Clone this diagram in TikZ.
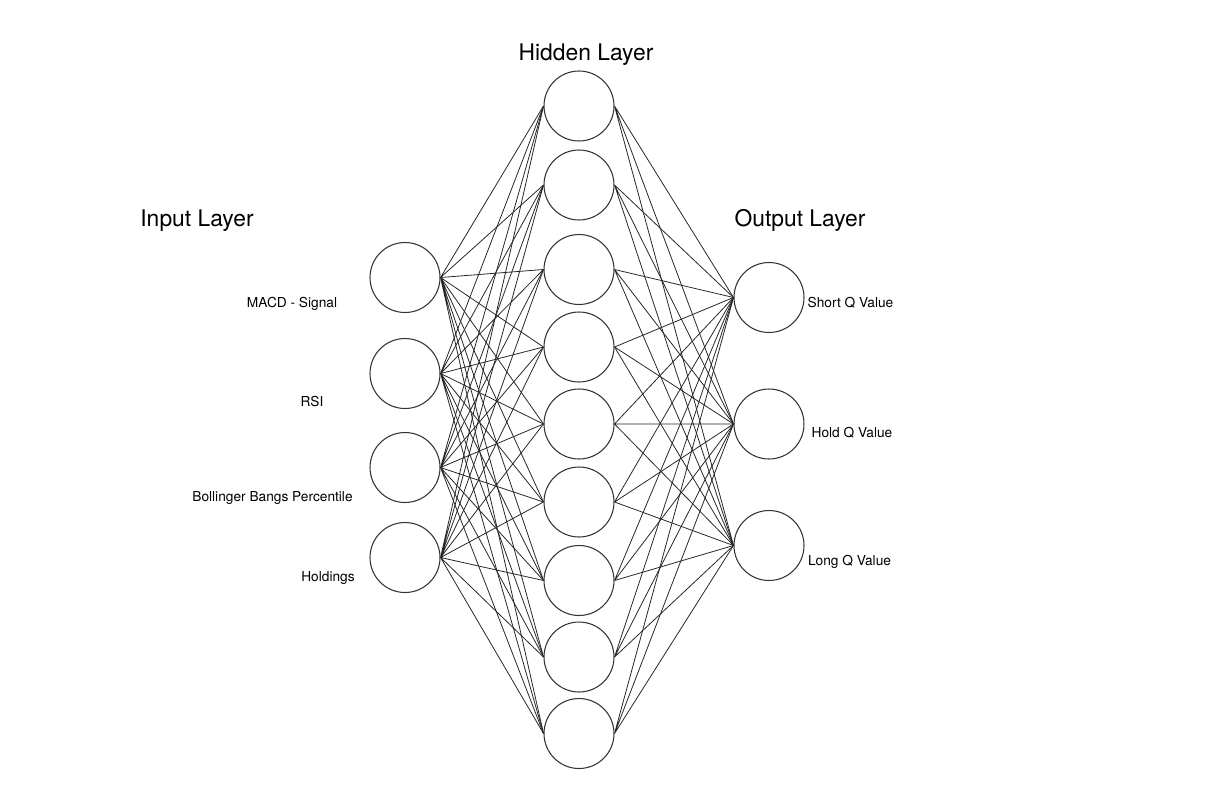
\documentclass[tikz,border=0pt]{standalone}
\usepackage{fontspec}
\setmainfont{TeX Gyre Heros}
\usepackage{tikz}

\begin{document}
\begin{tikzpicture}[x=0.02cm, y=-0.02cm]
    \tikzstyle{neuron} = [
        circle, draw=black!80, line width=0.6pt,
        minimum size=1.4cm, inner sep=0pt
    ]

    \tikzstyle{layer_title} = [anchor=base, font=\fontsize{13}{15}\selectfont]

    \tikzstyle{feature} = [anchor=base, font=\fontsize{7.8}{9}\selectfont]

    \tikzstyle{edge} = [black!85, line width=0.45pt]

    \useasboundingbox (0,0) rectangle (1212,794);

    % Titles
    \node[layer_title] (input_title) at (197,226) {Input Layer};
    \node[layer_title] (hidden_title) at (586,61) {Hidden Layer};
    \node[layer_title] (output_title) at (800,226) {Output Layer};

    % Input layer
    \node[neuron] (i1) at (405,277.5) {};
    \node[neuron] (i2) at (405,373.5) {};
    \node[neuron] (i3) at (405,467.5) {};
    \node[neuron] (i4) at (405,557.5) {};

    \node[feature] (macd) at (292,307) {MACD - Signal};
    \node[feature] (rsi) at (312,406) {RSI};
    \node[feature] (bollinger) at (272.5,501) {Bollinger Bangs Percentile};
    \node[feature] (holdings) at (328,581) {Holdings};

    % Hidden layer
    \node[neuron] (h1) at (579,106) {};
    \node[neuron] (h2) at (579,185) {};
    \node[neuron] (h3) at (579,269.5) {};
    \node[neuron] (h4) at (579,347) {};
    \node[neuron] (h5) at (579,424) {};
    \node[neuron] (h6) at (579,502) {};
    \node[neuron] (h7) at (579,580.5) {};
    \node[neuron] (h8) at (579,657) {};
    \node[neuron] (h9) at (579,733.5) {};

    % Output layer
    \node[neuron] (o1) at (769,297.5) {};
    \node[neuron] (o2) at (769,424) {};
    \node[neuron] (o3) at (769,545.5) {};

    \node[feature] (short_q) at (850.5,307) {Short Q Value};
    \node[feature] (hold_q) at (852,437) {Hold Q Value};
    \node[feature] (long_q) at (849.5,565) {Long Q Value};

    % Input -> hidden
    \draw[edge] (i1.east) -- (h1.west) (i1.east) -- (h2.west) (i1.east) -- (h3.west)
        (i1.east) -- (h4.west) (i1.east) -- (h5.west) (i1.east) -- (h6.west)
        (i1.east) -- (h7.west) (i1.east) -- (h8.west) (i1.east) -- (h9.west);
    \draw[edge] (i2.east) -- (h1.west) (i2.east) -- (h2.west) (i2.east) -- (h3.west)
        (i2.east) -- (h4.west) (i2.east) -- (h5.west) (i2.east) -- (h6.west)
        (i2.east) -- (h7.west) (i2.east) -- (h8.west) (i2.east) -- (h9.west);
    \draw[edge] (i3.east) -- (h1.west) (i3.east) -- (h2.west) (i3.east) -- (h3.west)
        (i3.east) -- (h4.west) (i3.east) -- (h5.west) (i3.east) -- (h6.west)
        (i3.east) -- (h7.west) (i3.east) -- (h8.west) (i3.east) -- (h9.west);
    \draw[edge] (i4.east) -- (h1.west) (i4.east) -- (h2.west) (i4.east) -- (h3.west)
        (i4.east) -- (h4.west) (i4.east) -- (h5.west) (i4.east) -- (h6.west)
        (i4.east) -- (h7.west) (i4.east) -- (h8.west) (i4.east) -- (h9.west);

    % Hidden -> output
    \draw[edge] (h1.east) -- (o1.west) (h1.east) -- (o2.west) (h1.east) -- (o3.west);
    \draw[edge] (h2.east) -- (o1.west) (h2.east) -- (o2.west) (h2.east) -- (o3.west);
    \draw[edge] (h3.east) -- (o1.west) (h3.east) -- (o2.west) (h3.east) -- (o3.west);
    \draw[edge] (h4.east) -- (o1.west) (h4.east) -- (o2.west) (h4.east) -- (o3.west);
    \draw[edge] (h5.east) -- (o1.west) (h5.east) -- (o2.west) (h5.east) -- (o3.west);
    \draw[edge] (h6.east) -- (o1.west) (h6.east) -- (o2.west) (h6.east) -- (o3.west);
    \draw[edge] (h7.east) -- (o1.west) (h7.east) -- (o2.west) (h7.east) -- (o3.west);
    \draw[edge] (h8.east) -- (o1.west) (h8.east) -- (o2.west) (h8.east) -- (o3.west);
    \draw[edge] (h9.east) -- (o1.west) (h9.east) -- (o2.west) (h9.east) -- (o3.west);

\end{tikzpicture}
\end{document}
